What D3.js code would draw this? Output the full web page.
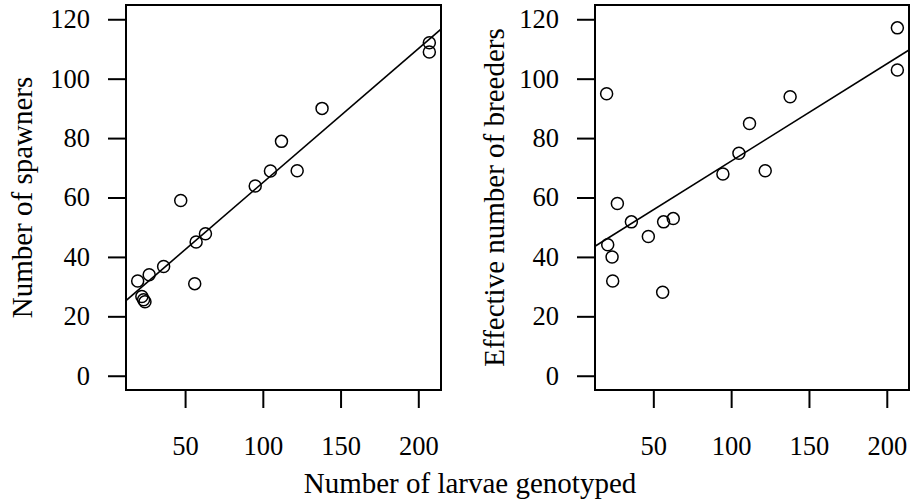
<!DOCTYPE html>
<html>
<head>
<meta charset="utf-8">
<script src="https://cdn.jsdelivr.net/npm/d3@7"></script>
<style>
  body { margin: 0; background: #fff; }
</style>
</head>
<body>
<svg id="chart" width="911" height="499"></svg>
<script>
// ---- data ----
const larvaeA   = [207.1, 207.1, 138.1, 112.0, 104.9, 122.1, 95.1, 47.2, 63.1, 57.1, 56.2, 36.2, 26.9, 19.5, 22.2, 23.3, 24.2];
const spawners  = [112.1, 109.0, 90.0, 78.9, 68.9, 69.0, 63.9, 59.0, 47.8, 45.0, 31.0, 36.8, 34.0, 31.9, 26.7, 25.6, 24.9];
const larvaeB   = [206.8, 206.8, 20.0, 137.9, 111.8, 105.0, 94.7, 121.9, 26.9, 35.9, 56.6, 62.8, 46.8, 20.7, 23.5, 23.9, 56.0];
const breeders  = [117.1, 102.9, 94.9, 93.9, 84.9, 74.9, 67.9, 69.0, 58.0, 51.8, 51.8, 52.9, 46.9, 44.1, 40.0, 31.9, 28.1];
const fitA = { intercept: 19.9, slope: 0.451 };
const fitB = { intercept: 39.5, slope: 0.3275 };
const xTicks = [50, 100, 150, 200];
const yTicks = [0, 20, 40, 60, 80, 100, 120];
const yLim = [0, 120];

const FONT = '"Liberation Serif", "Times New Roman", serif';
const svg = d3.select("#chart");

// R style 4% padding
function pad(ext) {
  const d = (ext[1] - ext[0]) * 0.04;
  return [ext[0] - d, ext[1] + d];
}

function styleAxis(a) {
  a.attr("font-family", null);
  a.select(".domain").remove();
  a.selectAll("line").attr("stroke", "#000").attr("stroke-width", 2);
  a.selectAll("text").attr("font-size", 26.5).attr("fill", "#000").style("font-family", FONT);
}

function panel(opt) {
  const x = d3.scaleLinear().domain(pad(d3.extent(opt.xs))).range([opt.left, opt.right]);
  const y = d3.scaleLinear().domain(pad(yLim)).range([opt.bottom, opt.top]);
  const g = svg.append("g");

  const clipId = "clip" + opt.left;
  svg.append("clipPath").attr("id", clipId)
    .append("rect")
    .attr("x", opt.left).attr("y", opt.top)
    .attr("width", opt.right - opt.left).attr("height", opt.bottom - opt.top);

  // y axis
  g.append("g").attr("transform", `translate(${opt.left},0)`)
    .call(d3.axisLeft(y).tickValues(yTicks).tickSize(18).tickPadding(18))
    .call(styleAxis);

  // x axis
  g.append("g").attr("transform", `translate(0,${opt.bottom})`)
    .call(d3.axisBottom(x).tickValues(xTicks).tickSize(18).tickPadding(28))
    .call(styleAxis);

  // box
  g.append("rect")
    .attr("x", opt.left).attr("y", opt.top)
    .attr("width", opt.right - opt.left).attr("height", opt.bottom - opt.top)
    .attr("fill", "none").attr("stroke", "#000").attr("stroke-width", 2);

  // regression line
  const xd = x.domain();
  g.append("line")
    .attr("clip-path", `url(#${clipId})`)
    .attr("x1", x(xd[0])).attr("y1", y(opt.fit.intercept + opt.fit.slope * xd[0]))
    .attr("x2", x(xd[1])).attr("y2", y(opt.fit.intercept + opt.fit.slope * xd[1]))
    .attr("stroke", "#000").attr("stroke-width", 1.6);

  // points
  g.selectAll("circle.pt")
    .data(opt.xs.map((v, i) => [v, opt.ys[i]]))
    .enter().append("circle")
    .attr("class", "pt")
    .attr("cx", d => x(d[0])).attr("cy", d => y(d[1]))
    .attr("r", 6)
    .attr("fill", "none").attr("stroke", "#000").attr("stroke-width", 1.5);

  // y label
  g.append("text")
    .attr("transform", `translate(${opt.ylabX},${(opt.top + opt.bottom) / 2}) rotate(-90)`)
    .attr("text-anchor", "middle")
    .attr("font-size", 29)
    .style("font-family", FONT)
    .text(opt.ylab);
}

panel({ xs: larvaeA, ys: spawners, fit: fitA, left: 126, right: 441, top: 5, bottom: 390,
        ylab: "Number of spawners", ylabX: 32 });
panel({ xs: larvaeB, ys: breeders, fit: fitB, left: 595, right: 909, top: 5, bottom: 390,
        ylab: "Effective number of breeders", ylabX: 504 });

svg.append("text")
  .attr("x", 470).attr("y", 493)
  .attr("text-anchor", "middle")
  .attr("font-size", 29)
  .style("font-family", FONT)
  .text("Number of larvae genotyped");
</script>
</body>
</html>
